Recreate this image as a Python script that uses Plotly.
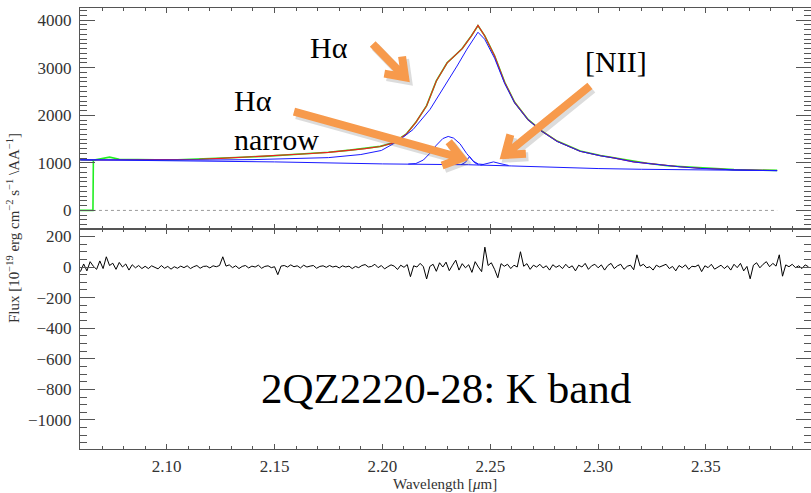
import math
import numpy as np
import plotly.graph_objects as go

# ---- observed spectrum (flux in 1e-19 erg cm^-2 s^-1 A^-1) ----
wl_obs = [2.0598, 2.0658, 2.0660, 2.070, 2.0735, 2.078, 2.085, 2.095,
          2.105, 2.115, 2.125, 2.135, 2.145, 2.155, 2.165, 2.175, 2.185, 2.192,
          2.199, 2.205, 2.211, 2.2155, 2.2205, 2.225, 2.23, 2.2335, 2.237, 2.2413,
          2.2443, 2.2474, 2.252, 2.2567, 2.2613, 2.2675, 2.274, 2.281, 2.2917, 2.3011,
          2.3072, 2.3165, 2.3227, 2.332, 2.338, 2.3475, 2.363, 2.383]
flux_obs = [0, 0, 1055, 1090, 1120, 1075, 1066, 1062,
            1066, 1078, 1098, 1117, 1137, 1163, 1193, 1222, 1267, 1302,
            1347, 1422, 1602, 1852, 2203, 2722, 3104, 3252, 3403, 3674,
            3885, 3676, 3252, 2694, 2273, 1913, 1668, 1458, 1248, 1153,
            1108, 1024, 992, 938, 921, 888, 857, 841]

# ---- total model fit ----
wl_fit = [2.066, 2.075, 2.085, 2.095,
          2.105, 2.115, 2.125, 2.135, 2.145, 2.155, 2.165, 2.175, 2.185, 2.192,
          2.199, 2.205, 2.211, 2.2155, 2.2205, 2.225, 2.23, 2.2335, 2.237, 2.2413,
          2.2443, 2.2474, 2.252, 2.2567, 2.2613, 2.2675, 2.274, 2.281, 2.2917, 2.3011,
          2.3072, 2.3165, 2.3227, 2.332, 2.338, 2.3475, 2.363, 2.383]
flux_fit = [1060, 1062, 1063, 1064,
            1065, 1075, 1095, 1115, 1135, 1160, 1190, 1220, 1265, 1300,
            1345, 1420, 1600, 1850, 2200, 2720, 3100, 3250, 3400, 3670,
            3890, 3670, 3250, 2690, 2270, 1910, 1665, 1455, 1245, 1150,
            1105, 1020, 990, 935, 918, 885, 855, 838]

# ---- model components (each drawn on top of the continuum) ----
wl_cont = [2.060, 2.10, 2.15, 2.20, 2.24, 2.26, 2.28, 2.30, 2.32, 2.35, 2.383]
flux_cont = [1065, 1050, 1020, 978, 960, 935, 900, 880, 865, 848, 836]

wl_broad = [2.060, 2.08, 2.10, 2.12, 2.14, 2.16, 2.175, 2.19, 2.1995, 2.2072,
            2.2142, 2.2221, 2.23, 2.2346, 2.2392, 2.2443, 2.2474, 2.252, 2.2567, 2.2613,
            2.2675, 2.274, 2.281, 2.2917, 2.3011, 2.3072, 2.3165, 2.3227, 2.332, 2.338,
            2.3475, 2.363, 2.383]
flux_broad = [1063, 1060, 1058, 1060, 1068, 1085, 1110, 1175, 1260, 1455,
              1700, 2125, 2690, 3035, 3390, 3745, 3600, 3200, 2665, 2260,
              1905, 1660, 1450, 1242, 1148, 1103, 1018, 988, 933, 916,
              883, 853, 836]

wl_inter = [2.212, 2.2155, 2.219, 2.222, 2.225, 2.228, 2.2305, 2.233, 2.236, 2.239,
            2.242, 2.2445, 2.247]
flux_inter = [975, 985, 1060, 1200, 1370, 1510, 1555, 1520, 1400, 1200,
              1040, 975, 965]

wl_narrow = [2.2365, 2.2385, 2.2404, 2.2425, 2.2445]
flux_narrow = [962, 1010, 1135, 1010, 962]

wl_nii = [2.2455, 2.2485, 2.2515, 2.2545, 2.2585]
flux_nii = [952, 985, 1020, 985, 945]

wl_edge = [2.0598, 2.0658]
flux_edge = [1062, 1058]

# ---- residuals (data - fit), sampled every 1.5 nm from 2.060 um ----
resid = [-30, 20, -25, 35, 5, -15, 40, -10, 67, 10,
         25, -15, 30, 0, 20, -20, 15, -5, 10, -10,
         5, -10, 8, -2, -12, 10, -8, 4, -14, 2,
         -8, 6, -4, 8, -10, 2, 10, -8, 4, 6,
         -6, 8, 2, 10, 67, 6, 14, -4, 8, -10,
         4, 10, -6, 6, 0, 12, -8, 4, 8, -4,
         2, -50, 6, 10, 0, 14, 2, 8, -6, 12,
         0, 6, 10, -8, 4, 8, -2, 10, 0, 6,
         -6, 8, 0, 6, -10, 4, -4, 10, 16, 0,
         4, 18, -4, 10, -12, 2, 14, 6, -16, 12,
         -2, 16, -63, 8, 0, 24, 2, -78, 4, 18,
         -28, 28, 0, 32, -24, 12, 45, -20, 22, -5,
         15, -35, 35, 0, -30, 130, 10, 28, -15, -70,
         22, 5, 18, -10, 12, 0, 100, 5, 22, -15,
         12, 0, 18, -6, 8, -20, 15, -2, 10, -10,
         18, -5, 8, -25, 12, 0, 24, -15, 8, 18,
         -5, 14, -20, 10, 24, -10, 8, 18, -15, 5,
         12, -18, 80, 6, 18, -5, 2, -20, 12, 0,
         8, 18, -10, 4, -25, 10, -4, 14, -15, 5,
         2, 14, -30, 8, -4, 18, -14, 2, 12, -10,
         8, -20, 18, -4, 24, -25, 4, -77, 12, 28,
         -5, 18, 35, 2, 24, 6, 80, -60, 14, 2,
         18, -4, 8, -10, 14, 2]
wl_res = 2.060 + 0.0015 * np.arange(len(resid))

x_ticks = [2.10, 2.15, 2.20, 2.25, 2.30, 2.35]
x_ticklabels = ["2.10", "2.15", "2.20", "2.25", "2.30", "2.35"]
top_ticks = [0, 1000, 2000, 3000, 4000]
bot_ticks = [-1000, -800, -600, -400, -200, 0, 200]

X_RANGE = [2.0598, 2.3987]
TOP_RANGE = [-380, 4255]
BOT_RANGE = [-1190, 252]

W, H = 811, 493
M_L, M_R, M_T, M_B = 80, 0, 8, 44
PLOT_W = W - M_L - M_R
PANEL_H = (H - M_T - M_B) * 0.5

SERIF = "Liberation Serif"
ORANGE = "#F79A4C"

fig = go.Figure()

# upper panel: data, fit and components
fig.add_trace(go.Scatter(x=[wl_obs[1], wl_obs[-1]], y=[0, 0], mode="lines",
                         line=dict(color="#9a9a9a", width=1, dash="dot"),
                         xaxis="x", yaxis="y", hoverinfo="skip"))
fig.add_trace(go.Scatter(x=wl_obs, y=flux_obs, mode="lines",
                         line=dict(color="#22ee22", width=1.6), xaxis="x", yaxis="y"))
fig.add_trace(go.Scatter(x=wl_edge, y=flux_edge, mode="lines",
                         line=dict(color="black", width=1), xaxis="x", yaxis="y"))
fig.add_trace(go.Scatter(x=wl_fit, y=flux_fit, mode="lines",
                         line=dict(color="#ee2020", width=1.1), xaxis="x", yaxis="y"))
for wl, fl in [(wl_cont, flux_cont), (wl_broad, flux_broad), (wl_inter, flux_inter),
               (wl_narrow, flux_narrow), (wl_nii, flux_nii)]:
    fig.add_trace(go.Scatter(x=wl, y=fl, mode="lines",
                             line=dict(color="#1a1aff", width=1), xaxis="x", yaxis="y"))

# lower panel: residuals
fig.add_trace(go.Scatter(x=wl_res, y=resid, mode="lines",
                         line=dict(color="black", width=1), xaxis="x2", yaxis="y2"))


def to_px(xv, yv):
    px = (xv - X_RANGE[0]) / (X_RANGE[1] - X_RANGE[0]) * PLOT_W
    py = (yv - TOP_RANGE[0]) / (TOP_RANGE[1] - TOP_RANGE[0]) * PANEL_H
    return px, py


def to_data(px, py):
    xv = X_RANGE[0] + px / PLOT_W * (X_RANGE[1] - X_RANGE[0])
    yv = TOP_RANGE[0] + py / PANEL_H * (TOP_RANGE[1] - TOP_RANGE[0])
    return xv, yv


def arrow_path(tail, tip, head=21, spread=36, shift=(0, 0)):
    tx, ty = to_px(*tail)
    hx, hy = to_px(*tip)
    tx, ty, hx, hy = tx + shift[0], ty + shift[1], hx + shift[0], hy + shift[1]
    n = math.hypot(hx - tx, hy - ty)
    ux, uy = (hx - tx) / n, (hy - ty) / n
    wings = []
    for s in (1, -1):
        a = math.radians(180 + s * spread)
        wx = hx + head * (ux * math.cos(a) - uy * math.sin(a))
        wy = hy + head * (ux * math.sin(a) + uy * math.cos(a))
        wings.append(to_data(wx, wy))
    p_tail, p_tip = to_data(tx, ty), to_data(hx, hy)
    return (f"M {p_tail[0]},{p_tail[1]} L {p_tip[0]},{p_tip[1]} "
            f"M {wings[0][0]},{wings[0][1]} L {p_tip[0]},{p_tip[1]} "
            f"L {wings[1][0]},{wings[1][1]}")


arrows = [((2.1955, 3499), (2.2105, 2799)),
          ((2.1590, 2077), (2.2368, 1098)),
          ((2.2962, 2617), (2.2568, 1167))]
shapes = []
for tail, tip in arrows:
    shapes.append(dict(type="path", xref="x", yref="y",
                       path=arrow_path(tail, tip, shift=(2.5, -3)),
                       line=dict(color="rgba(60,60,60,0.18)", width=9)))
for tail, tip in arrows:
    shapes.append(dict(type="path", xref="x", yref="y",
                       path=arrow_path(tail, tip),
                       line=dict(color=ORANGE, width=8)))


def label(text, x, y, size, color="black", **kw):
    base = dict(text=text, x=x, y=y, xref="paper", yref="paper", showarrow=False,
                xanchor="center", yanchor="middle",
                font=dict(family=SERIF, size=size, color=color))
    base.update(kw)
    return base


annotations = [
    label("Hα", 0.3406, 0.9093, 30),
    label("Hα<br>narrow", 0.2079, 0.747, 30, xanchor="left", align="left"),
    label("[NII]", 0.7326, 0.8776, 30),
    label("2QZ2220-28: K band", 0.5007, 0.1383, 43),
    label("Flux [10<sup>−19</sup> erg cm<sup>−2</sup> s<sup>−1</sup> \\AA<sup>−1</sup>]",
          -0.0917, 0.501, 15, color="#333", textangle=-90),
    label("Wavelength [<i>μ</i>m]", 0.4993, -0.0795, 15, color="#333"),
]

axis_common = dict(showline=True, linecolor="#555", linewidth=1, mirror="allticks",
                   ticks="inside", tickcolor="#555", showgrid=False, zeroline=False,
                   tickfont=dict(family=SERIF, size=17, color="#333"))

fig.update_layout(
    width=W, height=H, margin=dict(l=M_L, r=M_R, t=M_T, b=M_B),
    font=dict(family=SERIF, color="#333"),
    paper_bgcolor="white", plot_bgcolor="white", showlegend=False,
    xaxis=dict(domain=[0, 1], anchor="y", range=X_RANGE, matches="x2",
               showticklabels=False, tickvals=x_ticks, ticklen=5,
               minor=dict(dtick=0.01, tick0=2.0, ticklen=3, ticks="inside", tickcolor="#555"),
               **axis_common),
    xaxis2=dict(domain=[0, 1], anchor="y2", range=X_RANGE,
                tickvals=x_ticks, ticktext=x_ticklabels, ticklen=5, ticklabelstandoff=2,
                minor=dict(dtick=0.01, tick0=2.0, ticklen=3, ticks="inside", tickcolor="#555"),
                **axis_common),
    yaxis=dict(domain=[0.5, 1], anchor="x", range=TOP_RANGE, tickvals=top_ticks,
               ticklen=15, ticklabelstandoff=4,
               minor=dict(dtick=100, tick0=0, ticklen=7, ticks="inside", tickcolor="#555"),
               **axis_common),
    yaxis2=dict(domain=[0, 0.5], anchor="x2", range=BOT_RANGE, tickvals=bot_ticks,
                ticklen=15, ticklabelstandoff=4,
                minor=dict(dtick=50, tick0=0, ticklen=7, ticks="inside", tickcolor="#555"),
                **axis_common),
    shapes=shapes,
    annotations=annotations,
)

fig.write_html("out.html")
